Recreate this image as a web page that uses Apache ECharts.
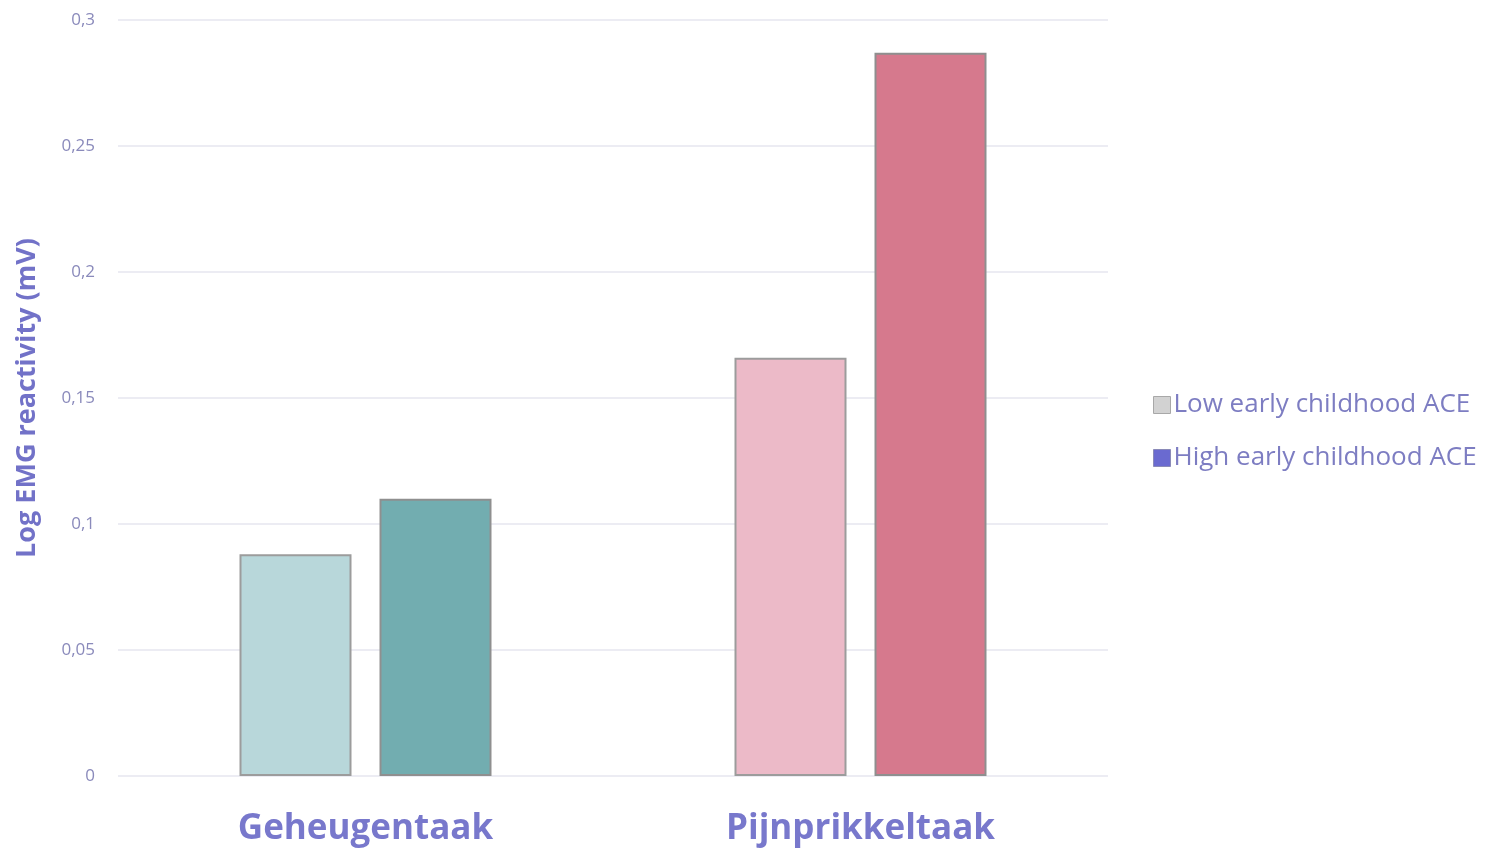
<!DOCTYPE html>
<html>
<head>
<meta charset="utf-8">
<script src="https://cdn.jsdelivr.net/npm/echarts@6/dist/echarts.min.js"></script>
<style>
html,body{margin:0;padding:0;background:#fff;}
#c{width:1507px;height:855px;}
</style>
</head>
<body>
<div id="c"></div>
<script>
var categories = ['Geheugentaak', 'Pijnprikkeltaak'];
var seriesNames = ['Low early childhood ACE', 'High early childhood ACE'];
var lowValues = [0.088, 0.166];
var highValues = [0.110, 0.287];
var lowColors = ['#b8d7da', '#ecbac8'];
var highColors = ['#72adb0', '#d6798d'];
var legendColors = ['#d2d2d2', '#6a6ad0'];

var chart = echarts.init(document.getElementById('c'));
var font = '"Open Sans", "Noto Sans", sans-serif';

function mk(vals, cols) {
  return vals.map(function (v, i) {
    return { value: v, itemStyle: { color: cols[i] } };
  });
}

chart.setOption({
  animation: false,
  backgroundColor: '#ffffff',
  grid: { left: 118, right: 399, top: 20, bottom: 79 },
  legend: {
    orient: 'vertical',
    left: 1148,
    top: 387,
    itemWidth: 17,
    itemHeight: 17,
    itemGap: 27,
    icon: 'rect',
    textStyle: { color: '#7d7dc2', fontSize: 26, fontFamily: font, padding: [0, 0, 0, -2] },
    data: [
      { name: seriesNames[0], itemStyle: { color: legendColors[0], borderColor: '#a8a8a8', borderWidth: 1 } },
      { name: seriesNames[1], itemStyle: { color: legendColors[1], borderColor: '#8a8ab8', borderWidth: 1 } }
    ]
  },
  xAxis: {
    type: 'category',
    data: categories,
    axisLine: { show: false },
    axisTick: { show: false },
    axisLabel: {
      color: '#7878cc', fontSize: 35, fontWeight: 'bold', fontFamily: font, margin: 36
    }
  },
  yAxis: {
    type: 'value',
    min: 0,
    max: 0.3,
    interval: 0.05,
    name: 'Log EMG reactivity (mV)',
    nameLocation: 'middle',
    nameGap: 77,
    nameTextStyle: { color: '#7272c8', fontSize: 27, fontWeight: 'bold', fontFamily: font },
    axisLine: { show: false },
    axisTick: { show: false },
    splitLine: { lineStyle: { color: '#ececf3', width: 2 } },
    axisLabel: {
      color: '#8a8abb', fontSize: 17, fontFamily: font, margin: 23,
      formatter: function (v) { return String(Math.round(v * 100) / 100).replace('.', ','); }
    }
  },
  series: [
    {
      name: seriesNames[0], type: 'bar', barWidth: 112, barGap: '25%',
      itemStyle: { color: legendColors[0], borderColor: '#9c9c9c', borderWidth: 2 },
      data: mk(lowValues, lowColors)
    },
    {
      name: seriesNames[1], type: 'bar', barWidth: 112, barGap: '25%',
      itemStyle: { color: legendColors[1], borderColor: '#8f8f8f', borderWidth: 2 },
      data: mk(highValues, highColors)
    }
  ]
});
</script>
</body>
</html>
